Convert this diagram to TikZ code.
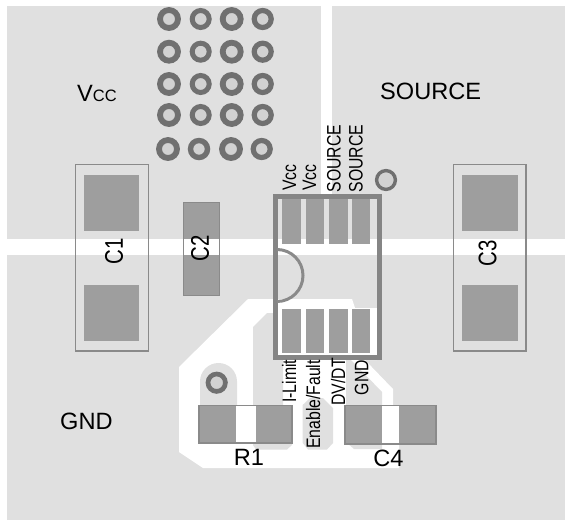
\documentclass[tikz,border=0pt]{standalone}
\usepackage{fontspec}
\setmainfont{Liberation Sans}
\newcommand{\lblfont}{\fontsize{23.6}{23.6}\selectfont}
\newcommand{\sidefont}{\fontsize{25.5}{25.5}\selectfont}
\newcommand{\pinfont}{\fontsize{19.5}{19.5}\selectfont}
\definecolor{plane}{HTML}{E0E0E0}
\definecolor{padgray}{HTML}{9E9E9E}
\definecolor{edgegray}{HTML}{8A8A8A}
\definecolor{icgray}{HTML}{858585}
\definecolor{ringgray}{HTML}{707070}
\definecolor{viafill}{HTML}{D2D2D2}
\tikzset{
  x=1pt,y=-1pt,
  planefill/.style={fill=plane,draw=none},
  gapfill/.style={fill=white,draw=none},
  padfill/.style={fill=padgray,draw=none},
  outline/.style={draw=edgegray,line width=1.3pt},
  ictrace/.style={draw=icgray,line width=5pt},
  viaring/.style={draw=ringgray,fill=viafill},
  biglabel/.style={font=\lblfont,text=black,inner sep=0pt},
  sidelabel/.style={font=\sidefont,text=black,inner sep=0pt,rotate=90,xscale=0.8},
  pinlabel/.style={font=\pinfont,text=black,inner sep=0pt,rotate=90,xscale=0.81},
}
\begin{document}
\begin{tikzpicture}
\useasboundingbox (0,0) rectangle (565,520);
\fill[white] (0,0) rectangle (565,520);
% copper plane and gaps
\fill[planefill] (7,6) rectangle (565,520);
\fill[gapfill] (0,239) rectangle (565,254.5);
\fill[gapfill] (320.5,6) rectangle (331.7,196);
% GND trace clearance
\fill[gapfill] (248,299) -- (352,299) -- (355,308) -- (377,308) -- (377,360) -- (365,360)
  -- (393,389) -- (393,405) -- (399,405) -- (399,468) -- (203,468) -- (179,452) -- (179,367) -- cycle;
% islands
\fill[planefill] (253,327) -- (267,313) -- (277,313) -- (277,360) -- (283,360) -- (283,405)
  -- (292,405) -- (292,445) -- (287,449.5) -- (256,449.5) -- (253,445) -- cycle;
\fill[planefill] (200,420) -- (200,381.5) arc[start angle=180,end angle=0,radius=18.5pt] -- (237,420) -- cycle;
\fill[planefill] (302.7,405) -- (310,398) -- (323,398) -- (333,408) -- (333,443) -- (327,449.5)
  -- (308,449.5) -- (302.7,443) -- cycle;
\fill[planefill] (346,360) -- (351,360) -- (382,392) -- (382,449) -- (354,449) -- (346,442) -- cycle;
% vias
\foreach \vx/\vr/\vw in {169/9/5.8,200.7/8.5/5,231.7/9/5.8,262.7/8.5/5.2}
  \foreach \vy in {19,51.7,84,115}
    \draw[viaring,line width=\vw pt] (\vx,\vy) circle[radius=\vr pt];
\foreach \vx/\vr/\vw in {168/9/5.8,199/8.5/5.4,231/9/5.8,261.7/8.5/5.2}
  \draw[viaring,line width=\vw pt] (\vx,149) circle[radius=\vr pt];
\draw[viaring,line width=3.4pt] (386,180) circle[radius=9.4pt];
\draw[viaring,line width=4.7pt] (216.7,382.7) circle[radius=8.7pt];
% C1
\fill[padfill] (84,174.5) rectangle (139,230.5);
\fill[padfill] (84,285) rectangle (139,341);
\draw[outline] (75.7,164.5) rectangle (148.3,351);
% C3
\fill[padfill] (462,174.5) rectangle (517.5,230.5);
\fill[padfill] (462,285) rectangle (517.5,341);
\draw[outline] (453.5,164.5) rectangle (526,351);
% C2
\fill[padfill] (183,202) rectangle (220,295.5);
\fill[gapfill] (183,239) rectangle (220,254.5);
\draw[outline] (183.5,202.5) rectangle (219.7,295.2);
% R1
\fill[padfill] (199,405.5) rectangle (292,443);
\fill[gapfill] (236,405.5) rectangle (256,443);
\draw[outline] (199,405.5) rectangle (292,443);
% C4
\fill[padfill] (345,405.5) rectangle (436,444);
\fill[gapfill] (382,405.5) rectangle (399,444);
\draw[outline] (345,405.5) rectangle (436,444);
% IC pins
\foreach \pl/\pr in {282/300.7,305.7/324.3,329/348,352/370}{
  \fill[padfill] (\pl,199) rectangle (\pr,244);
  \fill[padfill] (\pl,309) rectangle (\pr,352.7);
}
% IC body
\draw[ictrace] (275,196.5) rectangle (379,357);
\draw[draw=edgegray,line width=3pt] (277,249.5) arc[start angle=90,end angle=-90,radius=26pt];
% labels
\node[biglabel,anchor=base west] (vcc) at (77,101) {V\fontsize{16.5}{16.5}\selectfont CC};
\node[biglabel,anchor=base west] (source) at (380,99) {SOURCE};
\node[biglabel,anchor=base west] (gnd) at (60,429) {GND};
\node[biglabel] (r1) at (249,457) {R1};
\node[biglabel] (c4) at (388.5,458.5) {C4};
\node[sidelabel] (c1) at (114,251) {C1};
\node[sidelabel] (c2) at (200,248) {C2};
\node[sidelabel] (c3) at (487.5,253) {C3};
\node[pinlabel,anchor=base west] (p1) at (296,191) {Vcc};
\node[pinlabel,anchor=base west] (p2) at (316,191) {Vcc};
\node[pinlabel,anchor=base west] (p3) at (340.7,192.5) {SOURCE};
\node[pinlabel,anchor=base west] (p4) at (362.7,192.5) {SOURCE};
\node[pinlabel,anchor=base east] (p5) at (296,359.5) {I-Limit};
\node[pinlabel,anchor=base east] (p6) at (320,360) {Enable/Fault};
\node[pinlabel,anchor=base east] (p7) at (345,358) {DV/DT};
\node[pinlabel,anchor=base east] (p8) at (368.3,360) {GND};
\end{tikzpicture}
\end{document}
